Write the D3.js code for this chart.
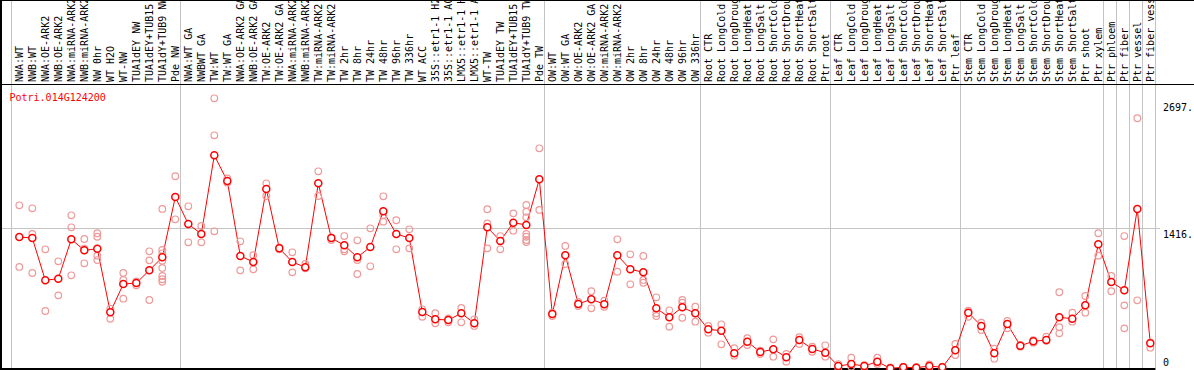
<!DOCTYPE html>
<html>
<head>
<meta charset="utf-8">
<script src="https://cdn.jsdelivr.net/npm/d3@7"></script>
<style>
  body { margin: 0; background: #fff; }
  svg text { font-family: "DejaVu Sans Mono", monospace; font-size: 10px; }
</style>
</head>
<body>
<div id="chart"></div>
<script>
// sample labels, one per column
var labels = ["NWA:WT", "NWB:WT", "NWA:OE-ARK2", "NWB:OE-ARK2", "NWA:miRNA-ARK2", "NWB:miRNA-ARK2",
    "NW 0hr", "WT H2O", "WT-NW", "TUA1dEY NW", "TUA1dEY+TUB15", "TUA1dY+TUB9 NW", "Pde NW",
    "NWA:WT GA", "NWBWT GA", "TW:WT", "TW:WT GA", "NWA:OE-ARK2 GA", "NWB:OE-ARK2 GA", "TW:OE-ARK2",
    "TW:OE-ARK2 GA", "NWA:miRNA-ARK2", "NWB:miRNA-ARK2", "TW:miRNA-ARK2", "TW:miRNA-ARK2",
    "TW 2hr", "TW 8hr", "TW 24hr", "TW 48hr", "TW 96hr", "TW 336hr", "WT ACC",
    "35S::etr1-1 H2O", "35S::etr1-1 ACC", "LMX5::etr1-1 H2O", "LMX5::etr1-1 ACC",
    "WT-TW", "TUA1dEY TW", "TUA1dEY+TUB15", "TUA1dY+TUB9 TW", "Pde TW",
    "OW:WT", "OW:WT GA", "OW:OE-ARK2", "OW:OE-ARK2 GA", "OW:miRNA-ARK2", "OW:miRNA-ARK2",
    "OW 2hr", "OW 8hr", "OW 24hr", "OW 48hr", "OW 96hr", "OW 336hr",
    "Root CTR", "Root LongCold", "Root LongDrought", "Root LongHeat", "Root LongSalt",
    "Root ShortCold", "Root ShortDrought", "Root ShortHeat", "Root ShortSalt", "Ptr root",
    "Leaf CTR", "Leaf LongCold", "Leaf LongDrought", "Leaf LongHeat", "Leaf LongSalt",
    "Leaf ShortCold", "Leaf ShortDrought", "Leaf ShortHeat", "Leaf ShortSalt", "Ptr leaf",
    "Stem CTR", "Stem LongCold", "Stem LongDrought", "Stem LongHeat", "Stem LongSalt",
    "Stem ShortCold", "Stem ShortDrought", "Stem ShortHeat", "Stem ShortSalt", "Ptr shoot",
    "Ptr xylem", "Ptr phloem", "Ptr fiber", "Ptr vessel", "Ptr fiber vessel"];

// mean expression per column
var means = [1325, 1315, 889, 905, 1302, 1191, 1207, 566, 851, 861, 989, 1121, 1729,
    1456, 1356, 2149, 1890, 1134, 1073, 1809, 1211, 1073, 1020, 1867, 1315, 1242, 1121, 1224,
    1585, 1356, 1315, 569, 495, 488, 556, 455, 1423, 1285, 1470, 1446, 1907,
    549, 1141, 650, 697, 647, 1141, 1000, 969, 606, 515, 616, 556,
    394, 380, 152, 269, 165, 193, 112, 286, 196, 158,
    24, 44, 24, 68, 1, 11, 7, 24, 11, 183,
    562, 428, 152, 448, 229, 273, 286, 515, 501, 636, 1252,
    871, 788, 1608, 253];

// replicate values per column
var reps = [
    [1645, 1023], [1615, 1356, 962], [1201, 579], [1080, 737], [1544, 1423, 939],
    [1305, 1207, 1060], [1363, 1328, 1137, 1093], [602, 501], [962, 892, 703], [878, 838],
    [1181, 1090, 690], [1608, 1194, 1161, 1086, 1013, 932, 899, 874], [1938, 1504],
    [1635, 1272], [1436, 1272], [2724, 2351, 1383], [1917, 1873], [1282, 989], [1141, 1000],
    [1867, 1739], [1221, 1201], [1171, 969], [1053, 1010], [1988, 1739], [1322, 1295],
    [1335, 1201, 1181], [1292, 1093, 952], [1413, 1030], [1736, 1544, 1480], [1494, 1201],
    [1403, 1211], [596, 521], [556, 455], [505, 465], [609, 465], [495, 428],
    [1605, 1463, 1211], [1335, 1201], [1564, 1389], [1648, 1580, 1524, 1356, 1328, 1295, 1275],
    [2220, 1598],
    [562, 528], [1235, 1053], [670, 629], [778, 606], [683, 622], [1302, 975], [1151, 848],
    [1134, 892, 864], [717, 556, 528], [586, 421], [690, 663, 511], [622, 471],
    [428, 360], [445, 243], [203, 128], [304, 236], [179, 145], [293, 118], [145, 68],
    [314, 246], [219, 168], [233, 118],
    [44, 1], [108, 17], [34, 11], [108, 44], [11, 0], [17, 0], [14, 0], [41, 7], [17, 1],
    [246, 135],
    [582, 521], [461, 387], [199, 98], [478, 404], [236, 219], [286, 259], [320, 279],
    [768, 415, 354], [562, 471], [730, 562], [1363, 1137],
    [932, 778], [1335, 636, 404], [2523, 687], [263, 209]];

// first column of each group, last entry closes the plot
var groupStarts = [0, 13, 41, 53, 63, 73, 84, 85, 86, 87, 88];

var yTicks = [2697, 1416, 0];
var geneName = "Potri.014G124200";

var width = 1194, height = 370;
var labelBottom = 84;

var svg = d3.select("#chart")
    .append("svg")
    .attr("width", width)
    .attr("height", height);

// columns are 13px wide
var x = d3.scaleLinear()
    .domain([0, labels.length])
    .range([11.3, 11.3 + 13 * labels.length]);
var xc = i => x(i) + 8;

var y = d3.scaleLinear()
    .domain([0, 2697])
    .range([368.4, 101]);

// group separators
svg.append("g")
    .selectAll("line")
    .data(groupStarts)
    .enter()
    .append("line")
    .attr("x1", d => Math.round(x(d)) + 0.5)
    .attr("x2", d => Math.round(x(d)) + 0.5)
    .attr("y1", 0)
    .attr("y2", height)
    .attr("stroke", "#c4c4c4");

// horizontal grid at middle tick
svg.append("line")
    .attr("x1", 2).attr("x2", 1160)
    .attr("y1", Math.round(y(1416)) + 0.5)
    .attr("y2", Math.round(y(1416)) + 0.5)
    .attr("stroke", "#c4c4c4");

// frame lines
svg.append("line").attr("x1", 0).attr("x2", width).attr("y1", 0.5).attr("y2", 0.5).attr("stroke", "#000");
svg.append("line").attr("x1", 0).attr("x2", width).attr("y1", labelBottom + 0.5).attr("y2", labelBottom + 0.5).attr("stroke", "#000");
svg.append("line").attr("x1", 1).attr("x2", 1).attr("y1", 0).attr("y2", height).attr("stroke", "#000").attr("stroke-width", 2);
svg.append("line").attr("x1", 0).attr("x2", x(labels.length)).attr("y1", 369).attr("y2", 369).attr("stroke", "#000").attr("stroke-width", 2);

// column labels, rotated
svg.append("clipPath").attr("id", "labclip")
    .append("rect").attr("x", 0).attr("y", 1).attr("width", width).attr("height", labelBottom - 1);

svg.append("g")
    .attr("clip-path", "url(#labclip)")
    .selectAll("text")
    .data(labels)
    .enter()
    .append("text")
    .attr("transform", (d, i) => "translate(" + (xc(i) + 3.5) + "," + (labelBottom - 2) + ")rotate(-90)")
    .attr("fill", "#000")
    .text(d => d);

// gene name
svg.append("text")
    .attr("x", 9.5)
    .attr("y", 100.5)
    .attr("fill", "#ff0000")
    .text(geneName);

// right axis labels
svg.append("g")
    .selectAll("text")
    .data(yTicks)
    .enter()
    .append("text")
    .attr("x", 1163)
    .attr("y", d => d == 0 ? y(d) - 2 : y(d) + 9.5)
    .attr("fill", "#000")
    .text(d => d == 0 ? "0" : d + ".");

// mean line
var line = d3.line()
    .x((d, i) => xc(i))
    .y(d => y(d));

svg.append("path")
    .datum(means)
    .attr("d", line)
    .attr("fill", "none")
    .attr("stroke", "#ff0000")
    .attr("stroke-width", 1);

// replicates
var repPoints = [];
reps.forEach((r, i) => r.forEach(v => repPoints.push({i: i, v: v})));

svg.append("g")
    .selectAll("circle")
    .data(repPoints)
    .enter()
    .append("circle")
    .attr("cx", d => xc(d.i))
    .attr("cy", d => y(d.v))
    .attr("r", 3.3)
    .attr("fill", "none")
    .attr("stroke", "#ee9a9a")
    .attr("stroke-width", 1.2);

// means
svg.append("g")
    .selectAll("circle")
    .data(means)
    .enter()
    .append("circle")
    .attr("cx", (d, i) => xc(i))
    .attr("cy", d => y(d))
    .attr("r", 3.5)
    .attr("fill", "#fff")
    .attr("stroke", "#ff0000")
    .attr("stroke-width", 1.5);
</script>
</body>
</html>
